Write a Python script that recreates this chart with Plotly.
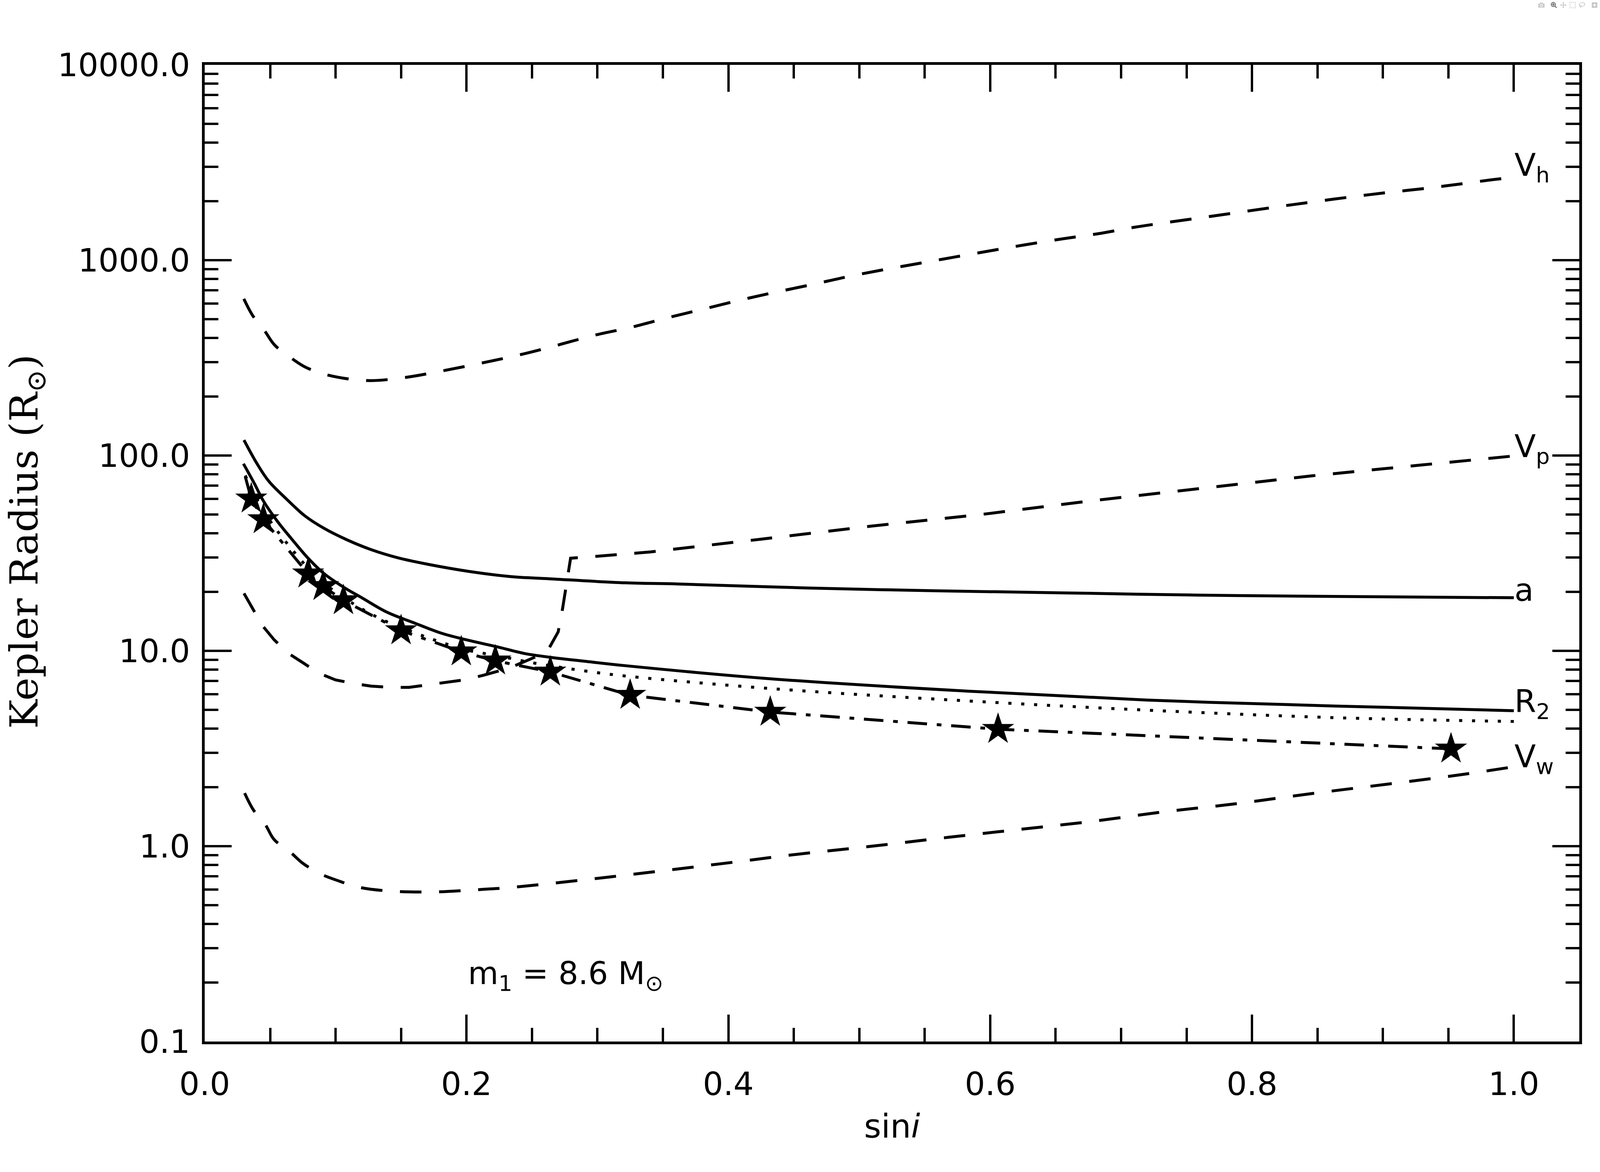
import numpy as np
import plotly.graph_objects as go

# ---------------- data ----------------
vh_x = [0.0299, 0.0367, 0.0454, 0.0534, 0.0654, 0.0767, 0.0932, 0.1233, 0.1532, 0.180,
        0.2132, 0.2433, 0.270, 0.2965, 0.3266, 0.353, 0.380, 0.4066, 0.433, 0.463,
        0.490, 0.516, 0.546, 0.573, 0.600, 0.626, 0.656, 0.683, 0.7096, 0.736,
        0.766, 0.793, 0.820, 0.846, 0.876, 0.903, 0.933, 0.959, 0.986, 1.0]
vh_y = [634, 520, 439, 368, 318, 284, 259, 242, 251, 270,
        299, 331, 368, 411, 455, 506, 560, 619, 679, 748,
        820, 887, 964, 1038, 1117, 1197, 1288, 1368, 1472, 1563,
        1667, 1770, 1879, 1986, 2109, 2218, 2333, 2455, 2594, 2650]

vp_x = [0.030, 0.037, 0.044, 0.053, 0.064, 0.075, 0.087, 0.100, 0.114, 0.127,
        0.143, 0.156, 0.171, 0.183, 0.198, 0.213, 0.225, 0.237, 0.2525, 0.263,
        0.270, 0.2734, 0.277, 0.2795, 0.292, 0.321, 0.3406, 0.4248, 0.509, 0.593,
        0.677, 0.7615, 0.8457, 0.930, 1.0]
vp_y = [19.7, 16.3, 13.5, 11.4, 9.7, 8.7, 7.7, 7.1, 6.8, 6.6,
        6.5, 6.5, 6.7, 6.9, 7.1, 7.5, 7.9, 8.4, 9.3, 10.3,
        12.5, 16.5, 23.5, 29.8, 30.2, 31.3, 32.1, 37.3, 43.5, 49.9,
        58.6, 67.9, 78.7, 89.5, 99.5]

vw_x = [0.0305, 0.0373, 0.0463, 0.0531, 0.0648, 0.075, 0.0887, 0.1024, 0.116, 0.140,
        0.174, 0.205, 0.2327, 0.2875, 0.342, 0.397, 0.452, 0.507, 0.568, 0.623,
        0.678, 0.733, 0.788, 0.843, 0.904, 0.959, 1.0]
vw_y = [1.87, 1.53, 1.29, 1.08, 0.94, 0.817, 0.72, 0.664, 0.62, 0.59,
        0.583, 0.597, 0.614, 0.67, 0.738, 0.817, 0.908, 0.995, 1.11, 1.22,
        1.34, 1.50, 1.65, 1.85, 2.08, 2.32, 2.55]

a_x = [0.030, 0.040, 0.049, 0.062, 0.0767, 0.0914, 0.108, 0.127, 0.148, 0.171,
       0.202, 0.234, 0.263, 0.321, 0.3606, 0.459, 0.5585, 0.6576, 0.7565, 0.8555, 1.0]
a_y = [120, 90.8, 73.8, 60.3, 49.0, 42.3, 37.2, 33.0, 29.9, 27.7,
       25.5, 24.0, 23.4, 22.3, 22.0, 21.0, 20.3, 19.8, 19.3, 19.0, 18.7]

r2_x = [0.0296, 0.038, 0.045, 0.0555, 0.066, 0.079, 0.091, 0.106, 0.1206, 0.139,
        0.160, 0.181, 0.202, 0.223, 0.244, 0.265, 0.290, 0.321, 0.434, 0.577,
        0.720, 0.863, 1.0]
r2_y = [90.8, 71.8, 58.3, 46.1, 37.7, 29.8, 24.9, 21.2, 18.6, 15.8,
        13.9, 12.3, 11.3, 10.5, 9.7, 9.25, 8.85, 8.4, 7.18, 6.25,
        5.6, 5.22, 4.94]

dot_x = [0.031, 0.038, 0.045, 0.055, 0.066, 0.079, 0.091, 0.106, 0.120, 0.140,
         0.160, 0.180, 0.200, 0.225, 0.250, 0.290, 0.320, 0.434, 0.577, 0.720,
         0.863, 1.0]
dot_y = [79, 63, 52, 41.5, 33.5, 26.5, 22.2, 18.8, 16.4, 14.0,
         12.4, 11.1, 10.1, 9.4, 8.7, 7.9, 7.45, 6.4, 5.57, 4.97,
         4.55, 4.35]

star_x = [0.0356, 0.0448, 0.0790, 0.0905, 0.106, 0.150, 0.196, 0.222, 0.264,
          0.325, 0.432, 0.606, 0.952]
star_y = [60, 47, 24.8, 21.4, 18.1, 12.7, 9.9, 8.9, 7.8,
          5.93, 4.86, 3.97, 3.15]

dd_x = [0.031] + star_x
dd_y = [78] + star_y

x_ticks = [0.0, 0.2, 0.4, 0.6, 0.8, 1.0]
x_ticktext = ["0.0", "0.2", "0.4", "0.6", "0.8", "1.0"]
x_minor = [0.05, 0.10, 0.15, 0.25, 0.30, 0.35, 0.45, 0.50, 0.55, 0.65, 0.70, 0.75,
           0.85, 0.90, 0.95]
y_ticks = [0.1, 1, 10, 100, 1000, 10000]
y_ticktext = ["0.1", "1.0", "10.0", "100.0", "1000.0", "10000.0"]
y_minor = [m * 10.0 ** e for e in range(-1, 4) for m in range(2, 10)]

# ---------------- styles ----------------
LW = 7.5
DASH = "55px,45px"
DOT = "8px,25px"
DASHDOT = "50px,25px,12px,25px"
BLACK = "black"

fig = go.Figure()


def add_line(x, y, dash, shape="spline"):
    fig.add_trace(go.Scatter(x=x, y=y, mode="lines",
                             line=dict(color=BLACK, width=LW, dash=dash,
                                       shape=shape),
                             showlegend=False, hoverinfo="skip"))


add_line(vh_x, vh_y, DASH)
add_line(vp_x, vp_y, DASH, shape="linear")
add_line(vw_x, vw_y, DASH)
add_line(a_x, a_y, "solid")
add_line(r2_x, r2_y, "solid")
add_line(dot_x, dot_y, DOT)
add_line(dd_x, dd_y, DASHDOT, shape="linear")

fig.add_trace(go.Scatter(x=star_x, y=star_y, mode="markers",
                         marker=dict(symbol="star", size=62, color=BLACK,
                                     line=dict(width=0)),
                         showlegend=False, hoverinfo="skip"))

TICKFONT = dict(family="DejaVu Sans", size=82, color=BLACK)

fig.update_xaxes(range=[0, 1.05], showline=True, linewidth=7, linecolor=BLACK,
                 mirror="ticks", ticks="inside", ticklen=69, tickwidth=6,
                 tickcolor=BLACK, tickmode="array", tickvals=x_ticks,
                 ticktext=x_ticktext, tickfont=TICKFONT, showgrid=False,
                 zeroline=False, ticklabelstandoff=32,
                 minor=dict(tickmode="array", tickvals=x_minor, ticks="inside",
                            ticklen=35, tickwidth=6, tickcolor=BLACK,
                            showgrid=False))
fig.update_yaxes(type="log", range=[-1, 4], showline=True, linewidth=7,
                 linecolor=BLACK, mirror="ticks", ticks="inside", ticklen=69,
                 tickwidth=6, tickcolor=BLACK, tickmode="array",
                 tickvals=y_ticks, ticktext=y_ticktext, tickfont=TICKFONT,
                 showgrid=False, zeroline=False, ticklabelstandoff=14,
                 minor=dict(tickmode="array", tickvals=y_minor, ticks="inside",
                            ticklen=35, tickwidth=6, tickcolor=BLACK,
                            showgrid=False))

LABFONT = dict(family="DejaVu Sans", size=80, color=BLACK)
annotations = [
    dict(text="V<sub>h</sub>", x=1.0, y=3.492, xref="x", yref="y", yshift=-8,
         xanchor="left", yanchor="middle", showarrow=False, font=LABFONT),
    dict(text="V<sub>p</sub>", x=1.0, y=2.056, xref="x", yref="y", yshift=-10,
         xanchor="left", yanchor="middle", showarrow=False, font=LABFONT),
    dict(text="a", x=1.0, y=1.312, xref="x", yref="y",
         xanchor="left", yanchor="middle", showarrow=False, font=LABFONT),
    dict(text="R<sub>2</sub>", x=1.0, y=0.75, xref="x", yref="y", yshift=-10,
         xanchor="left", yanchor="middle", showarrow=False, font=LABFONT),
    dict(text="V<sub>w</sub>", x=1.0, y=0.472, xref="x", yref="y", yshift=-12,
         xanchor="left", yanchor="middle", showarrow=False, font=LABFONT),
    dict(text="m<sub>1</sub> = 8.6 M<sub>⊙</sub>", x=0.2006, y=-0.662,
         xref="x", yref="y", xanchor="left", yanchor="middle",
         showarrow=False, font=LABFONT),
    dict(text="sin<i>i</i>", x=0.5, y=-0.0868, xref="paper", yref="paper",
         xanchor="center", yanchor="middle", showarrow=False,
         font=dict(family="DejaVu Sans", size=84, color=BLACK)),
    dict(text="Kepler Radius (R<sub>⊙</sub>)", x=-0.1489, y=0.512,
         xref="paper", yref="paper", xanchor="left", yanchor="middle",
         textangle=-90, showarrow=False,
         font=dict(family="DejaVu Serif", size=100, color=BLACK)),
]

fig.update_layout(width=4200, height=3000,
                  margin=dict(l=524, r=157, t=166, b=334, pad=0),
                  paper_bgcolor="white", plot_bgcolor="white",
                  annotations=annotations, showlegend=False)

fig.write_html("out.html", post_script="document.body.style.margin='0';")
